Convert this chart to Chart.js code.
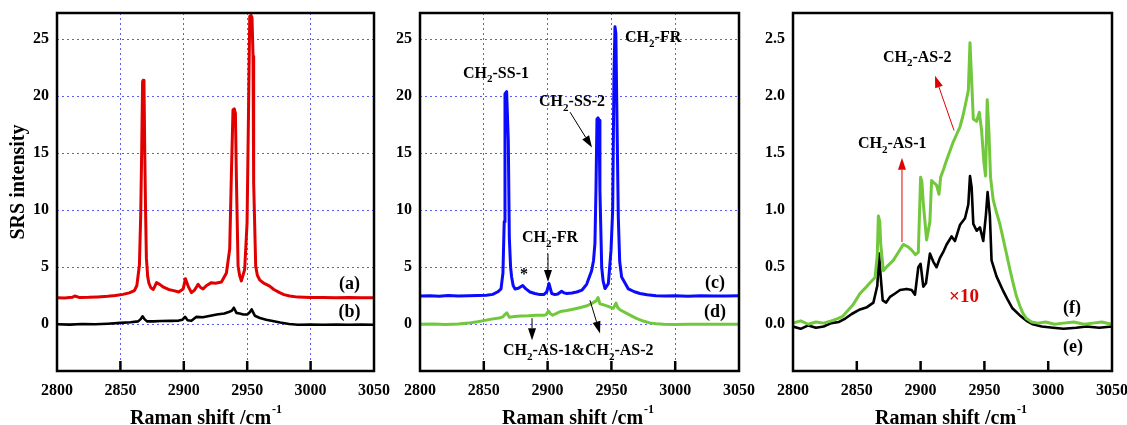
<!DOCTYPE html>
<html>
<head>
<meta charset="utf-8">
<script src="https://cdn.jsdelivr.net/npm/chart.js@4.4.1/dist/chart.umd.min.js"></script>
<style>
  html, body { margin: 0; padding: 0; background: #fff; overflow: hidden; }
  #wrap { position: relative; width: 1127px; height: 425px; }
  canvas { position: absolute; top: 0; }
</style>
</head>
<body>
<div id="wrap">
  <canvas id="c1" width="400" height="425" style="left:0px"></canvas>
  <canvas id="c2" width="385" height="425" style="left:380px"></canvas>
  <canvas id="c3" width="380" height="425" style="left:750px"></canvas>
</div>
<script>
// ---- data (Raman shift in cm-1, SRS intensity) ----
const xTicks = [2800, 2850, 2900, 2950, 3000, 3050];
const yTicksBig = [0, 5, 10, 15, 20, 25];
const yTicksSmall = [0, 0.5, 1.0, 1.5, 2.0, 2.5];

// panel 1, curve (a)
const shiftA = [2800, 2806, 2812, 2814, 2818, 2825, 2832, 2840, 2846, 2852, 2857, 2861, 2863, 2865, 2866, 2866.8, 2867.5, 2868, 2868.6, 2869.2, 2869.8, 2870.5, 2871.5, 2872.5, 2874, 2876, 2878.5, 2881, 2884, 2888, 2892, 2896, 2899.5, 2901.3, 2903.4, 2906, 2908.5, 2911.3, 2913, 2915.2, 2918, 2921.8, 2925, 2929.7, 2933.6, 2936.2, 2937.5, 2938.8, 2939.8, 2940.7, 2941.5, 2942.8, 2944, 2945.4, 2948, 2949.9, 2951.2, 2952, 2953, 2953.8, 2954.6, 2955.1, 2956.7, 2958, 2959.8, 2963, 2967.7, 2971, 2975.6, 2979, 2983.5, 2990, 3000, 3010, 3020, 3030, 3040, 3050];
const intensityA = [2.32, 2.30, 2.36, 2.48, 2.34, 2.36, 2.40, 2.45, 2.52, 2.62, 2.75, 2.95, 3.4, 5.2, 9.5, 15.3, 21.3, 21.4, 21.2, 15.2, 10.3, 5.8, 4.2, 3.6, 3.2, 3.05, 3.65, 3.5, 3.25, 3.05, 2.95, 2.83, 3.1, 4.0, 3.35, 2.77, 3.0, 3.5, 3.25, 3.1, 3.4, 3.65, 3.6, 3.7, 4.5, 6.6, 13.0, 18.8, 18.9, 18.5, 12.7, 5.1, 4.3, 3.8, 4.8, 8.9, 20.0, 27.0, 27.1, 26.9, 23.5, 12.4, 5.1, 4.3, 3.9, 3.6, 3.35, 3.05, 2.77, 2.6, 2.48, 2.38, 2.34, 2.35, 2.32, 2.34, 2.33, 2.33];

// panel 1, curve (b)
const shiftB = [2800, 2810, 2820, 2830, 2840, 2850, 2858, 2864, 2866, 2867.5, 2869, 2871, 2876, 2882, 2890, 2896, 2899, 2901, 2903, 2906, 2910, 2915, 2920, 2926, 2932, 2936, 2938, 2939.5, 2941.5, 2944, 2947, 2950, 2952, 2953.5, 2956, 2960, 2965, 2970, 2976, 2983, 2990, 3000, 3010, 3020, 3030, 3040, 3050];
const intensityB = [0.00, -0.03, 0.02, 0.00, 0.05, 0.12, 0.18, 0.25, 0.45, 0.70, 0.45, 0.25, 0.25, 0.28, 0.30, 0.32, 0.40, 0.65, 0.35, 0.30, 0.65, 0.62, 0.72, 0.85, 0.95, 1.10, 1.20, 1.45, 1.00, 0.95, 0.85, 0.85, 1.05, 1.30, 0.75, 0.55, 0.40, 0.28, 0.15, 0.02, -0.05, -0.02, -0.05, -0.03, -0.04, -0.02, -0.04];

// panel 2, curve (c)
const shiftC = [2800, 2808, 2815, 2822, 2830, 2838, 2845, 2852, 2857, 2861, 2863.5, 2865, 2866, 2866.6, 2867.9, 2869.2, 2870, 2871, 2871.8, 2873, 2874.5, 2877, 2880.5, 2883, 2886.2, 2890, 2894, 2897, 2899.3, 2901.1, 2903.2, 2905.8, 2908, 2911, 2913, 2915, 2919, 2922.8, 2927, 2930.6, 2934.5, 2936, 2937.1, 2937.9, 2938.7, 2939.5, 2940.3, 2941, 2942.4, 2943.5, 2945, 2947.6, 2949.7, 2951, 2952, 2952.8, 2953.5, 2954.2, 2955.4, 2956.5, 2958, 2963.3, 2968, 2972.4, 2978, 2985, 2992, 3000, 3010, 3020, 3030, 3040, 3050];
const intensityC = [2.48, 2.50, 2.46, 2.52, 2.47, 2.50, 2.52, 2.55, 2.62, 2.85, 3.1, 4.5, 9.0, 20.2, 20.4, 16.1, 7.6, 5.0, 4.15, 3.4, 3.1, 3.15, 3.4, 3.1, 2.83, 2.7, 2.6, 2.6, 2.83, 3.57, 2.7, 2.6, 2.65, 2.9, 2.75, 2.7, 2.75, 2.83, 3.0, 3.5, 4.7, 5.6, 7.1, 11.75, 18.0, 18.1, 17.9, 11.75, 5.0, 3.8, 3.13, 3.57, 6.5, 10.0, 21.7, 26.1, 25.5, 19.4, 9.4, 5.5, 4.15, 3.1, 2.85, 2.7, 2.58, 2.50, 2.48, 2.50, 2.46, 2.50, 2.48, 2.47, 2.49];

// panel 2, curve (d)
const shiftD = [2800, 2810, 2820, 2830, 2838, 2845, 2850, 2856, 2862, 2865, 2866.5, 2868, 2870, 2874, 2879, 2885, 2891, 2897, 2899, 2900.6, 2902, 2904, 2907, 2910, 2915, 2920, 2925, 2931, 2935, 2938, 2939.5, 2941, 2944, 2948, 2951.5, 2953.6, 2955, 2957, 2962, 2966, 2970, 2975, 2980, 2985, 2991, 3000, 3010, 3020, 3030, 3040, 3050];
const intensityD = [0.00, 0.02, -0.02, 0.03, 0.10, 0.22, 0.32, 0.45, 0.55, 0.65, 0.85, 1.0, 0.62, 0.68, 0.72, 0.75, 0.80, 0.78, 0.85, 1.17, 0.95, 0.80, 0.95, 1.12, 1.2, 1.32, 1.45, 1.62, 1.85, 2.05, 2.35, 1.8, 1.7, 1.55, 1.4, 1.85, 1.45, 1.25, 0.95, 0.72, 0.50, 0.28, 0.12, 0.04, 0.0, -0.02, 0.01, -0.01, 0.00, 0.01, -0.01];

// panel 3, curve (e)
const shiftE = [2800, 2806, 2812, 2818, 2824, 2830, 2836, 2841, 2846, 2852.5, 2858, 2863, 2866.1, 2867.4, 2868.7, 2870.3, 2873, 2876, 2880, 2883.9, 2889.1, 2893, 2895.6, 2898.2, 2900, 2902.1, 2904.2, 2907.3, 2909.9, 2912.5, 2915.1, 2918, 2920.4, 2924.3, 2926.9, 2930.8, 2934.8, 2937.4, 2938.7, 2940, 2941.3, 2943.9, 2946.5, 2949.1, 2951.2, 2952.5, 2954.3, 2955.6, 2959.5, 2964.8, 2968, 2972, 2977.6, 2983, 2988, 2995, 3003.8, 3012, 3022, 3030, 3040, 3050];
const intensityE = [-0.02, -0.04, -0.01, -0.03, -0.02, 0.01, 0.02, 0.05, 0.09, 0.13, 0.15, 0.19, 0.34, 0.62, 0.42, 0.21, 0.19, 0.24, 0.27, 0.30, 0.31, 0.30, 0.26, 0.50, 0.53, 0.33, 0.36, 0.62, 0.55, 0.50, 0.58, 0.64, 0.70, 0.77, 0.73, 0.87, 0.93, 1.05, 1.30, 1.20, 0.88, 0.82, 0.85, 0.73, 0.96, 1.16, 0.95, 0.56, 0.42, 0.29, 0.22, 0.14, 0.08, 0.03, 0.0, -0.02, -0.03, -0.04, -0.03, -0.02, -0.03, -0.02];

// panel 3, curve (f)
const shiftF = [2800, 2806, 2812, 2818, 2824, 2830, 2835, 2839, 2843, 2847, 2852.5, 2856, 2860, 2864.3, 2866, 2866.9, 2868, 2868.7, 2870.8, 2874, 2878.6, 2882, 2886.4, 2890, 2893, 2896, 2898.2, 2900, 2901, 2902.1, 2904.7, 2907.3, 2908.6, 2910.5, 2912.5, 2914.4, 2915.7, 2918, 2920.4, 2923, 2925.6, 2928, 2930.8, 2933, 2934.8, 2937.4, 2938.7, 2940, 2941.3, 2943.9, 2946, 2947.8, 2949.6, 2950.9, 2952.2, 2953.5, 2954.8, 2956.9, 2959.5, 2962.1, 2964.5, 2967.3, 2970, 2972.5, 2975, 2977.8, 2980, 2983, 2987, 2992, 2998, 3005, 3012, 3020, 3028, 3035, 3042, 3050];
const intensityF = [0.01, 0.03, 0.00, 0.02, 0.01, 0.03, 0.05, 0.07, 0.12, 0.17, 0.27, 0.31, 0.36, 0.41, 0.60, 0.95, 0.90, 0.71, 0.47, 0.51, 0.56, 0.62, 0.70, 0.68, 0.65, 0.61, 0.63, 1.29, 1.25, 1.06, 0.74, 0.90, 1.26, 1.24, 1.22, 1.14, 1.29, 1.36, 1.44, 1.52, 1.60, 1.66, 1.73, 1.82, 1.91, 2.05, 2.47, 2.14, 1.80, 1.78, 1.86, 1.70, 1.42, 1.30, 1.97, 1.70, 1.29, 1.09, 0.98, 0.88, 0.76, 0.62, 0.48, 0.36, 0.25, 0.16, 0.10, 0.05, 0.02, 0.01, 0.02, 0.00, 0.01, 0.02, 0.00, 0.01, 0.02, 0.00];

// ---- styling ----
const FONT = "'Liberation Serif', 'Times New Roman', serif";
const GRID_COLOR = "#5a5aff";
const RED = "#e00000", BLACK = "#000000", BLUE = "#0a0aff", GREEN = "#72c83c";

function pts(xs, ys) {
    return xs.map((x, i) => ({x: x, y: ys[i]}));
}

// draws text where "_c" makes c a subscript
function chemText(ctx, text, x, y, size, color, align) {
    const runs = [];
    const re = /_(.)/g;
    let last = 0, m;
    while ((m = re.exec(text)) !== null) {
        if (m.index > last) runs.push([text.slice(last, m.index), false]);
        runs.push([m[1], true]);
        last = m.index + 2;
    }
    if (last < text.length) runs.push([text.slice(last), false]);
    const subSize = Math.round(size * 0.68);
    let total = 0;
    runs.forEach(r => {
        ctx.font = "bold " + (r[1] ? subSize : size) + "px " + FONT;
        r.push(ctx.measureText(r[0]).width);
        total += r[2];
    });
    let cx = align === "center" ? x - total / 2 : x;
    ctx.fillStyle = color;
    ctx.textAlign = "left";
    ctx.textBaseline = "middle";
    runs.forEach(r => {
        ctx.font = "bold " + (r[1] ? subSize : size) + "px " + FONT;
        ctx.fillText(r[0], cx, r[1] ? y + size * 0.38 : y);
        cx += r[2];
    });
}

function arrow(ctx, x1, y1, x2, y2, color) {
    const a = Math.atan2(y2 - y1, x2 - x1), L = 12, W = 4;
    const bx = x2 - L * Math.cos(a), by = y2 - L * Math.sin(a);
    ctx.strokeStyle = color;
    ctx.fillStyle = color;
    ctx.lineWidth = 1;
    ctx.beginPath();
    ctx.moveTo(x1, y1);
    ctx.lineTo(bx, by);
    ctx.stroke();
    ctx.beginPath();
    ctx.moveTo(x2, y2);
    ctx.lineTo(bx + W * Math.sin(a), by - W * Math.cos(a));
    ctx.lineTo(bx - W * Math.sin(a), by + W * Math.cos(a));
    ctx.closePath();
    ctx.fill();
}

const panelDeco = {
    id: "panelDeco",
    afterDatasetsDraw(chart, args, opts) {
        const ctx = chart.ctx, area = chart.chartArea;
        const xs = chart.scales.x, ys = chart.scales.y;
        ctx.save();
        // frame
        ctx.strokeStyle = "#000";
        ctx.lineWidth = 2.5;
        ctx.strokeRect(area.left, area.top, area.right - area.left, area.bottom - area.top);
        // inward tick marks on the bottom axis
        xTicks.slice(1, -1).forEach(v => {
            const px = xs.getPixelForValue(v);
            ctx.beginPath();
            ctx.moveTo(px, area.bottom);
            ctx.lineTo(px, area.bottom - 10);
            ctx.stroke();
        });
        // arrows
        (opts.arrows || []).forEach(a => {
            arrow(ctx, xs.getPixelForValue(a[0]), ys.getPixelForValue(a[1]),
                  xs.getPixelForValue(a[2]), ys.getPixelForValue(a[3]), a[4]);
        });
        // labels
        (opts.labels || []).forEach(l => {
            chemText(ctx, l.text, xs.getPixelForValue(l.x), ys.getPixelForValue(l.y), l.size, l.color || "#000", l.align);
        });
        // x title with superscript
        ctx.fillStyle = "#000";
        ctx.textAlign = "left";
        ctx.textBaseline = "alphabetic";
        ctx.font = "bold 20px " + FONT;
        const tx = area.left + opts.titleOffset;
        ctx.fillText("Raman shift /cm", tx, 424);
        const w = ctx.measureText("Raman shift /cm").width;
        ctx.font = "bold 12px " + FONT;
        ctx.fillText("-1", tx + w + 1, 413);
        // y title
        if (opts.yTitle) {
            ctx.translate(19, 182);
            ctx.rotate(-Math.PI / 2);
            ctx.textAlign = "center";
            ctx.textBaseline = "middle";
            ctx.font = "bold 20px " + FONT;
            ctx.fillText(opts.yTitle, 0, 0);
        }
        ctx.restore();
    }
};

function makePanel(id, datasets, cfg) {
    const tickFont = {family: FONT, size: 16, weight: "bold"};
    return new Chart(document.getElementById(id), {
        type: "line",
        data: {datasets: datasets},
        plugins: [panelDeco],
        options: {
            responsive: false,
            animation: false,
            events: [],
            layout: {padding: {top: 13, right: cfg.padRight, left: 0, bottom: 0}},
            elements: {point: {radius: 0}, line: {tension: 0, borderJoinStyle: "round"}},
            scales: {
                x: {
                    type: "linear", min: 2800, max: 3050,
                    afterBuildTicks: s => { s.ticks = xTicks.map(v => ({value: v})); },
                    afterFit: s => { s.height = 54; s.paddingLeft = 0; s.paddingRight = 0; },
                    grid: {display: cfg.grid, color: GRID_COLOR, lineWidth: 1, drawTicks: false},
                    border: {display: false, dash: [2, 3]},
                    ticks: {padding: 10, color: "#000", font: tickFont, maxRotation: 0, autoSkip: false,
                            callback: v => String(v)}
                },
                y: {
                    type: "linear", min: cfg.yMin, max: cfg.yMax,
                    afterBuildTicks: s => { s.ticks = cfg.yTicks.map(v => ({value: v})); },
                    afterFit: s => { s.width = cfg.yWidth; s.paddingTop = 0; s.paddingBottom = 0; },
                    grid: {display: cfg.grid, color: GRID_COLOR, lineWidth: 1, drawTicks: false},
                    border: {display: false, dash: [2, 3]},
                    ticks: {padding: 8, color: "#000", font: tickFont, autoSkip: false,
                            callback: v => cfg.decimals ? v.toFixed(1) : String(v)}
                }
            },
            plugins: {
                legend: {display: false},
                tooltip: {enabled: false},
                panelDeco: {
                    labels: cfg.labels, arrows: cfg.arrows,
                    titleOffset: cfg.titleOffset, yTitle: cfg.yTitle
                }
            }
        }
    });
}

function series(label, xs, ys, color, width) {
    return {label: label, data: pts(xs, ys), borderColor: color, borderWidth: width, fill: false};
}

makePanel("c1", [
    series("(a)", shiftA, intensityA, RED, 3),
    series("(b)", shiftB, intensityB, BLACK, 2.6)
], {
    yMin: -4.1, yMax: 27.3, yTicks: yTicksBig, yWidth: 57, padRight: 26, grid: true,
    titleOffset: 73, yTitle: "SRS intensity",
    labels: [
        {text: "(a)", x: 3030.7, y: 3.5, size: 18, align: "center"},
        {text: "(b)", x: 3030.7, y: 1.05, size: 18, align: "center"}
    ],
    arrows: []
});

makePanel("c2", [
    series("(c)", shiftC, intensityC, BLUE, 3),
    series("(d)", shiftD, intensityD, GREEN, 3)
], {
    yMin: -4.1, yMax: 27.3, yTicks: yTicksBig, yWidth: 40, padRight: 26, grid: true,
    titleOffset: 82,
    labels: [
        {text: "CH_2-SS-1", x: 2833.7, y: 22.0, size: 16},
        {text: "CH_2-FR", x: 2960.7, y: 25.1, size: 16},
        {text: "CH_2-SS-2", x: 2893.3, y: 19.5, size: 16},
        {text: "CH_2-FR", x: 2879.9, y: 7.6, size: 16},
        {text: "*", x: 2881.5, y: 4.3, size: 16, align: "center"},
        {text: "(c)", x: 3031.2, y: 3.6, size: 18, align: "center"},
        {text: "(d)", x: 3031.2, y: 1.05, size: 18, align: "center"},
        {text: "CH_2-AS-1&CH_2-AS-2", x: 2865, y: -2.37, size: 16}
    ],
    arrows: [
        [2917.6, 18.6, 2934.8, 15.5, "#000"],
        [2900.3, 6.2, 2900.3, 3.7, "#000"],
        [2887.8, 0.53, 2887.8, -1.4, "#000"],
        [2933.2, 2.1, 2941.1, -0.8, "#000"]
    ]
});

makePanel("c3", [
    series("(f)", shiftF, intensityF, GREEN, 3),
    series("(e)", shiftE, intensityE, BLACK, 2.6)
], {
    yMin: -0.41, yMax: 2.73, yTicks: yTicksSmall, yWidth: 43, padRight: 18, grid: false,
    decimals: true, titleOffset: 82,
    labels: [
        {text: "CH_2-AS-2", x: 2870.5, y: 2.34, size: 16},
        {text: "CH_2-AS-1", x: 2850.9, y: 1.58, size: 16},
        {text: "\u00d710", x: 2934, y: 0.24, size: 19, color: RED, align: "center"},
        {text: "(f)", x: 3018.7, y: 0.14, size: 18, align: "center"},
        {text: "(e)", x: 3019.4, y: -0.20, size: 18, align: "center"}
    ],
    arrows: [
        [2926.2, 1.70, 2911.3, 2.18, RED],
        [2885.4, 0.72, 2885.4, 1.46, RED]
    ]
});
</script>
</body>
</html>
